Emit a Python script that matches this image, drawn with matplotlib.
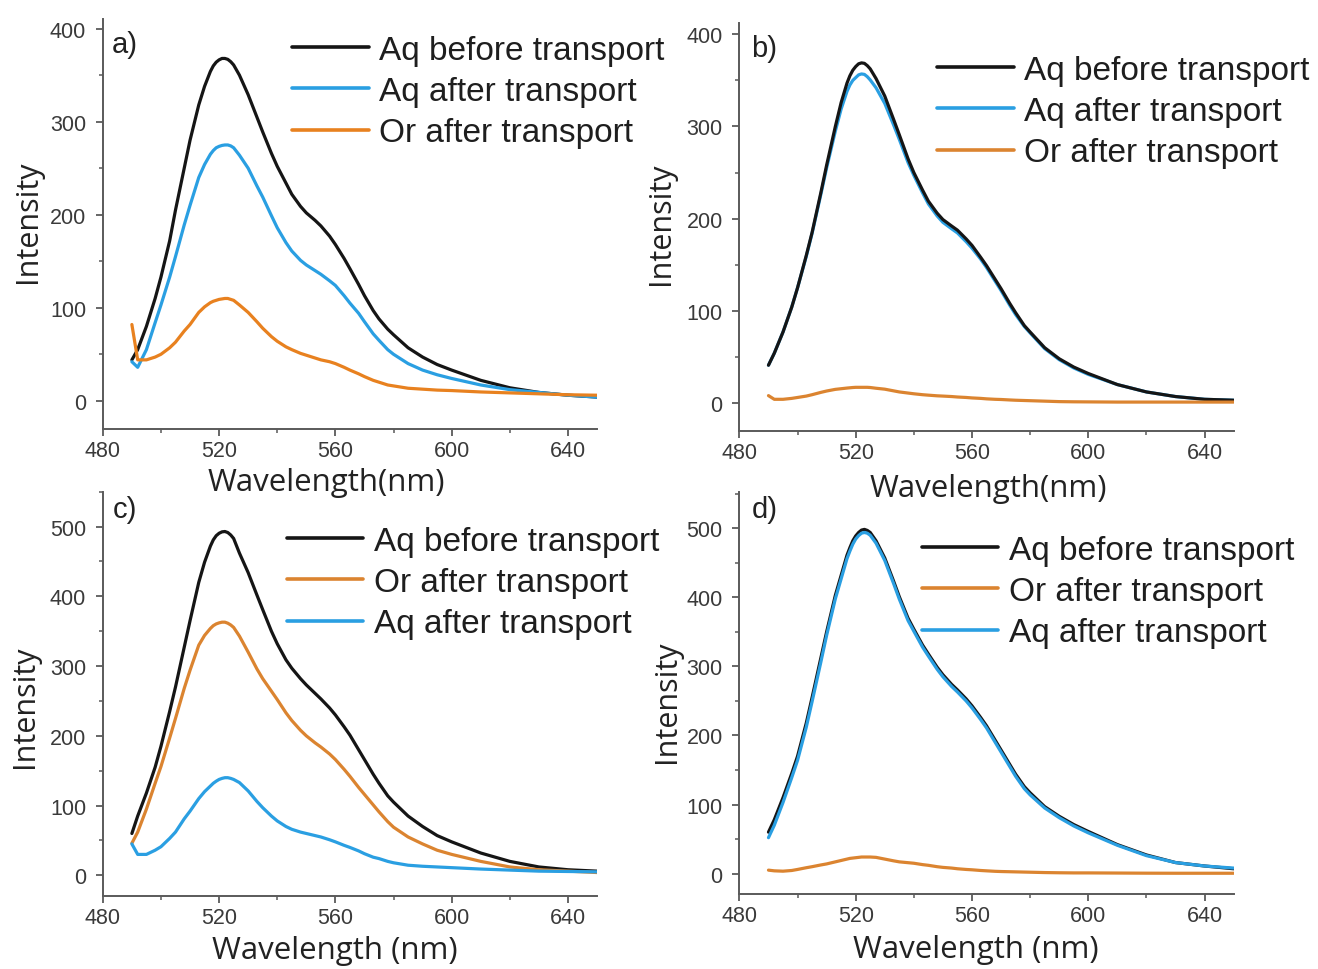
import matplotlib
matplotlib.use('Agg')
import matplotlib.pyplot as plt
from matplotlib.ticker import MultipleLocator

plt.rcParams['font.family'] = ['Liberation Sans', 'DejaVu Sans']

# wavelength grid (nm)
wl = [490, 492, 495, 498, 500, 503, 505, 508, 510, 513,
      515, 517, 518, 519, 520, 521, 522, 523, 524, 525,
      527, 530, 533, 535, 538, 540, 543, 545, 548, 550,
      553, 555, 558, 560, 563, 565, 568, 570, 573, 575,
      578, 580, 585, 590, 595, 600, 610, 620, 630, 640, 650]

# panel a
a_aq_before = [44, 55, 80, 110, 133, 172, 205, 250, 280, 318,
               338, 354, 360, 364, 366.5, 368, 368, 367, 364.5, 361,
               350, 329, 305, 289, 266, 252, 234, 222, 209, 202,
               194, 188, 177, 168, 153, 142, 125, 113, 97, 88,
               77, 71, 57, 47, 39, 33, 22, 14, 9, 6, 4]
a_aq_after = [42, 36, 55, 84, 103, 133, 155, 189, 210, 240,
              254, 265, 269, 272, 273.5, 274.5, 275, 275, 274, 272,
              264, 250, 231, 219, 199, 186, 170, 161, 151, 146,
              140, 136, 129, 124, 113, 105, 94, 85, 72, 65,
              55, 50, 40, 33, 28, 24, 17, 12, 9, 6, 4]
a_or_after = [82, 44, 44, 47, 50, 57, 63, 75, 82, 95,
              101, 105.5, 107, 108, 109, 109.5, 110, 110, 109, 108,
              103, 95, 85, 78, 69, 64, 58, 55, 51, 49,
              46, 44, 42, 40, 36, 33, 29, 26, 22, 20,
              17, 16, 13.5, 12.5, 11.5, 11, 9.5, 8.5, 7.5, 6.5, 6]

# panel b
b_aq_before = [41, 54, 77, 104, 125, 160, 185, 228, 258, 300,
               326, 347, 355, 361, 365, 368, 369, 368.5, 366, 362.5,
               352, 333, 308, 291, 265, 250, 231, 219, 206, 199,
               192, 187.5, 178, 171, 158, 149, 134, 124, 108, 98,
               84, 77, 60, 48, 39, 32, 20, 12, 7, 4, 3]
b_aq_after = [41, 54, 77, 104, 125, 159, 184, 226, 255, 295,
              319, 338, 345, 350, 353, 356, 357, 356.5, 354, 350.5,
              342, 325, 302, 286, 261, 247, 228, 216, 203, 196,
              189, 184.5, 175, 168, 156, 147, 132, 122, 106, 96,
              83, 76, 59, 47, 38, 31, 20, 12, 7, 4, 3]
b_or_after = [8, 4, 4, 5, 6, 7.5, 9, 11.5, 13, 14.8,
              15.5, 16.2, 16.5, 16.8, 17, 17, 17, 17, 17, 16.8,
              16, 15, 13.2, 12, 10.8, 10, 9, 8.5, 7.8, 7.5,
              7, 6.5, 6, 5.5, 5, 4.5, 4, 3.8, 3.3, 3,
              2.7, 2.5, 2, 1.5, 1.3, 1.2, 1, 1, 1, 1, 1]

# panel c
c_aq_before = [60, 85, 118, 155, 185, 235, 270, 327, 365, 420,
               449, 472, 481, 487, 490.5, 492.5, 493, 491.5, 488, 483,
               462, 434, 402, 381, 350, 332, 309, 297, 282, 273,
               261, 253, 240, 230, 213, 201, 180, 166, 145, 132,
               114, 105, 85, 70, 57, 48, 32, 20, 12, 8, 6]
c_or_after = [46, 62, 95, 132, 156, 197, 225, 268, 294, 330,
              344, 354, 358, 360.5, 362, 363, 363, 361.5, 359, 355.5,
              343, 320, 296, 282, 264, 252, 233, 222, 208, 200,
              190, 184, 174, 166, 152, 142, 126, 116, 101, 91,
              77, 69, 55, 45, 36, 30, 20, 12, 8, 6, 4]
c_aq_after = [45, 30, 30, 36, 41, 53, 62, 81, 92, 110,
              120, 128, 132, 135, 137.5, 139, 140, 140, 139, 137.5,
              133, 121, 106, 97, 85, 78, 70, 66, 62, 60,
              57, 55, 51, 48, 43, 40, 35, 31, 26, 24,
              20, 18, 14.5, 13, 12, 11, 9, 7.5, 6, 5.5, 5]

# panel d
d_aq_before = [60, 78, 110, 145, 170, 218, 255, 312, 350, 403,
               432, 461, 472, 482, 489, 494, 497.5, 498.5, 497, 494,
               482, 457, 424, 401, 370, 354, 331, 318, 299, 288,
               274, 266, 253, 243, 226, 214, 193, 179, 158, 144,
               126, 117, 97, 83, 71, 61, 42, 27, 16, 11, 7]
d_or_after = [5, 4, 3.5, 4.5, 6, 8.5, 10, 12.5, 14, 17,
              19, 21, 22, 22.5, 23, 23.5, 24, 24, 24, 24,
              23.5, 21, 18.5, 17, 15.8, 15, 13, 12, 10, 9,
              8, 7, 6, 5.5, 4.5, 4, 3.3, 3, 2.7, 2.5,
              2.2, 2, 1.5, 1.2, 1, 1, 0.8, 0.6, 0.5, 0.5, 0.5]
d_aq_after = [52, 70, 103, 139, 164, 212, 249, 306, 345, 398,
              427, 456, 467, 477, 484.5, 489.5, 493, 494, 493, 490,
              478.5, 453.5, 420.5, 397.5, 366.5, 351, 328, 315, 296, 285,
              271, 263, 250, 240, 223, 211, 190, 176, 155, 141,
              123, 114, 95, 81, 69, 59, 41, 26, 16, 11, 8]

BLACK = '#151515'
BLUE = '#2a9fe2'
ORANGE = '#e8811f'
ORANGE2 = '#db8430'
AXC = '#5a5a5a'
LAB_FONT = ['Open Sans', 'DejaVu Sans']

fig = plt.figure(figsize=(13.18, 9.70), dpi=100)

panels = [
    # tag, rect, series, ylim, top tick, legend anchor, tag pos, xlabel, xlabel pos, ylabel pos
    ('a)', [0.078, 0.557, 0.375, 0.422],
     [(a_aq_before, BLACK, 'Aq before transport', 2), (a_aq_after, BLUE, 'Aq after transport', 3),
      (a_or_after, ORANGE, 'Or after transport', 4)],
     (-30, 410), 400, (0.383, 0.963), (0.018, 0.939), 'Wavelength(nm)', (0.453, -0.129), (-0.152, 0.507)),
    ('b)', [0.561, 0.555, 0.375, 0.420],
     [(b_aq_before, BLACK, 'Aq before transport', 3), (b_aq_after, BLUE, 'Aq after transport', 2),
      (b_or_after, ORANGE2, 'Or after transport', 4)],
     (-30, 412), 400, (0.400, 0.923), (0.024, 0.940), 'Wavelength(nm)', (0.503, -0.141), (-0.158, 0.510)),
    ('c)', [0.078, 0.075, 0.375, 0.417],
     [(c_aq_before, BLACK, 'Aq before transport', 2), (c_or_after, ORANGE2, 'Or after transport', 3),
      (c_aq_after, BLUE, 'Aq after transport', 4)],
     (-30, 550), 500, (0.372, 0.916), (0.020, 0.958), 'Wavelength (nm)', (0.470, -0.132), (-0.158, 0.470)),
    ('d)', [0.561, 0.077, 0.375, 0.415],
     [(d_aq_before, BLACK, 'Aq before transport', 2), (d_or_after, ORANGE2, 'Or after transport', 4),
      (d_aq_after, BLUE, 'Aq after transport', 3)],
     (-30, 553), 500, (0.369, 0.893), (0.026, 0.958), 'Wavelength (nm)', (0.479, -0.136), (-0.146, 0.480)),
]

for tag, rect, series, ylim, ymax, leg_xy, tag_xy, xlab, xlab_xy, ylab_xy in panels:
    ax = fig.add_axes(rect)
    ax.set_facecolor('none')
    handles = []
    for vals, col, lab, z in series:
        ln, = ax.plot(wl, vals, color=col, lw=2.3, label=lab, zorder=z,
                      solid_capstyle='round', solid_joinstyle='round')
        handles.append(ln)

    ax.set_xlim(480, 650)
    ax.set_ylim(*ylim)
    ax.set_xticks([480, 520, 560, 600, 640])
    ax.set_yticks(range(0, ymax + 1, 100))
    ax.xaxis.set_minor_locator(MultipleLocator(20))
    ax.yaxis.set_minor_locator(MultipleLocator(50))

    for s in ['top', 'right']:
        ax.spines[s].set_visible(False)
    for s in ['left', 'bottom']:
        ax.spines[s].set_color(AXC)
        ax.spines[s].set_linewidth(1.4)
    ax.tick_params(which='major', direction='out', length=5, width=1.3, color=AXC,
                   labelsize=15.5, labelcolor='#3a3a3a')
    ax.tick_params(axis='y', which='major', pad=7)
    ax.tick_params(axis='x', which='major', pad=3)
    ax.tick_params(which='minor', direction='out', length=3, width=1.1, color=AXC)

    ax.set_xlabel(xlab, fontsize=22.5, family=LAB_FONT, color='#222222')
    ax.set_ylabel('Intensity', fontsize=22, family=LAB_FONT, color='#222222')
    ax.xaxis.set_label_coords(*xlab_xy)
    ax.yaxis.set_label_coords(*ylab_xy)
    ax.xaxis.label.set_verticalalignment('center')
    ax.yaxis.label.set_verticalalignment('center')

    ax.text(tag_xy[0], tag_xy[1], tag, transform=ax.transAxes, ha='left', va='center',
            fontsize=21, color='#222222')

    leg = ax.legend(handles=handles, loc='upper left', bbox_to_anchor=leg_xy, frameon=False,
                    fontsize=24, handlelength=2.3, handletextpad=0.32, labelspacing=0.31,
                    borderpad=0, borderaxespad=0)
    for t in leg.get_texts():
        t.set_color('#1e1e1e')
    for h in leg.get_lines():
        h.set_linewidth(2.6)

fig.savefig('out.png', dpi=100, facecolor='white')
